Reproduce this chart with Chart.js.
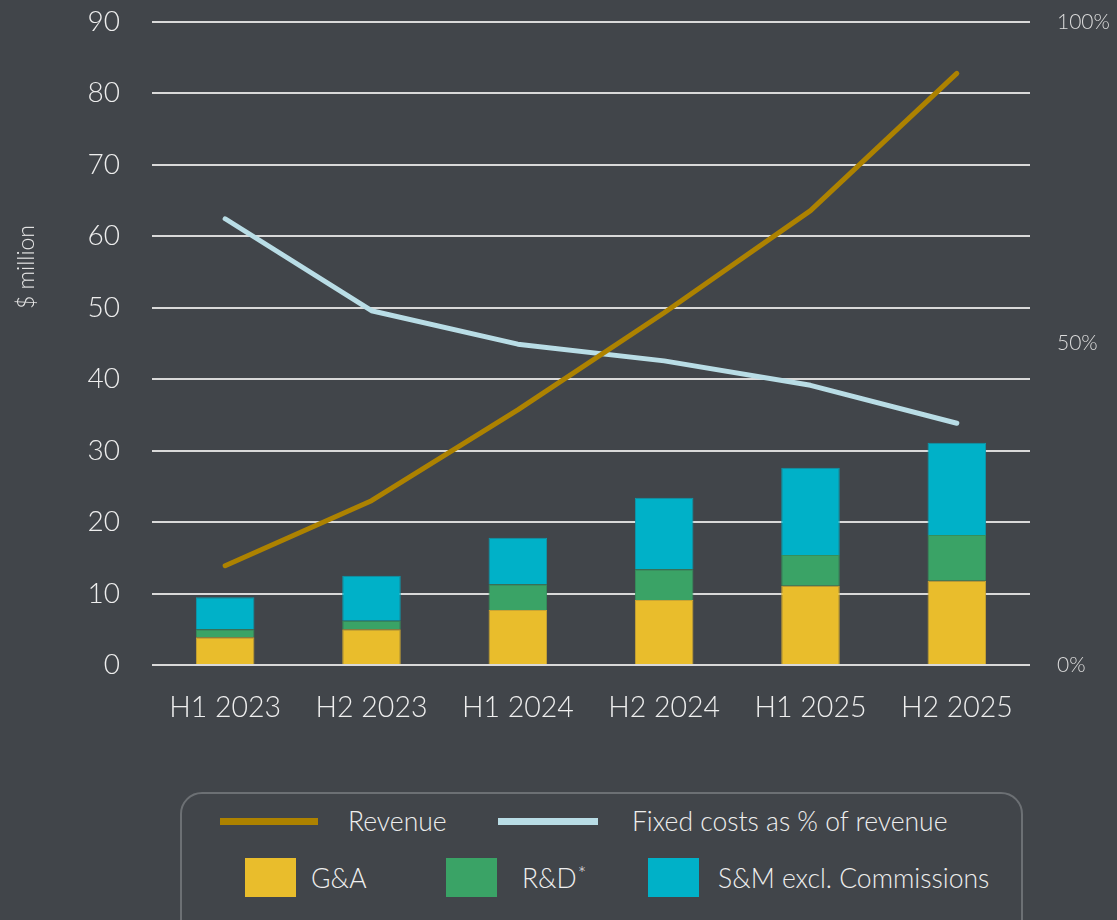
<!DOCTYPE html>
<html><head><meta charset="utf-8">
<script src="https://cdn.jsdelivr.net/npm/chart.js@4.4.0/dist/chart.umd.min.js"></script>
<style>
html,body{margin:0;padding:0;background:#41454a;width:1117px;height:920px;overflow:hidden;font-family:Lato,sans-serif;font-weight:300;color:#eeeeee}
#wrap{position:absolute;left:0;top:0;width:1117px;height:780px}
#ytitle{position:absolute;left:25px;top:267px;transform:translate(-50%,-50%) rotate(-90deg);font-size:23px;white-space:nowrap;color:#e6e6e6}
#legendBox{position:absolute;left:180px;top:792px;width:843px;height:150px;border:2px solid #6c7074;border-radius:22px;box-sizing:border-box}
.sw{position:absolute}
.lt{position:absolute;font-size:26.5px;line-height:30px;white-space:nowrap;color:#eeeeee}
.lt sup{font-size:20px;vertical-align:top;position:relative;top:-5px;margin-left:1px}
</style></head>
<body>
<div id="wrap"><canvas id="c" width="1117" height="780"></canvas></div>
<div id="ytitle">$ million</div>
<div id="legendBox"></div>
<div id="legend"></div>
<script>
const categories = ['H1 2023','H2 2023','H1 2024','H2 2024','H1 2025','H2 2025'];
const gaValues = [3.9, 5.0, 7.7, 9.1, 11.1, 11.8];
const rdValues = [1.1, 1.2, 3.6, 4.3, 4.3, 6.4];
const smValues = [4.5, 6.3, 6.5, 10.0, 12.2, 12.9];
const revenueValues = [13.9, 23.0, 35.7, 49.3, 63.6, 82.8];
const fixedPctValues = [69.4, 55.1, 49.9, 47.3, 43.5, 37.6];
const leftTickValues = [0,10,20,30,40,50,60,70,80,90];
const rightTickValues = [0,50,100];
const seriesNames = ['Revenue','Fixed costs as % of revenue','G&A','R&D','S&M excl. Commissions'];
const seriesColors = ['#ad8200','#b9dde6','#e9bd2c','#3aa366','#00b1c8'];
const seriesBorders = [null,null,'#c9a534','#358f5c','#0c98ab'];

const tickFont = {family:'Lato', size:28.5, weight:300};

new Chart(document.getElementById('c'), {
  type:'bar',
  data:{
    labels:categories,
    datasets:[
      {type:'line', label:seriesNames[0], data:revenueValues, yAxisID:'y', stack:'rev', borderColor:seriesColors[0], borderWidth:5, pointRadius:0, borderCapStyle:'round', borderJoinStyle:'round', tension:0, order:0},
      {type:'line', label:seriesNames[1], data:fixedPctValues, yAxisID:'y1', stack:'pct', borderColor:seriesColors[1], borderWidth:5, pointRadius:0, borderCapStyle:'round', borderJoinStyle:'round', tension:0, order:0},
      {label:seriesNames[2], data:gaValues, yAxisID:'y', stack:'costs', backgroundColor:seriesColors[2], borderColor:seriesBorders[2], borderWidth:1, barPercentage:0.4, categoryPercentage:1, order:1},
      {label:seriesNames[3], data:rdValues, yAxisID:'y', stack:'costs', backgroundColor:seriesColors[3], borderColor:seriesBorders[3], borderWidth:1, barPercentage:0.4, categoryPercentage:1, order:1},
      {label:seriesNames[4], data:smValues, yAxisID:'y', stack:'costs', backgroundColor:seriesColors[4], borderColor:seriesBorders[4], borderWidth:1, barPercentage:0.4, categoryPercentage:1, order:1}
    ]
  },
  options:{
    responsive:false,
    animation:false,
    layout:{padding:{top:22,left:0,right:0,bottom:0}},
    plugins:{legend:{display:false}, tooltip:{enabled:false}},
    scales:{
      x:{
        stacked:true,
        grid:{display:false, drawTicks:false},
        border:{display:false},
        ticks:{color:'#eeeeee', font:tickFont, padding:26},
        afterFit(s){ s.height = 115; s.paddingLeft = 0; s.paddingRight = 0; }
      },
      y:{
        stacked:true,
        position:'left',
        min:0, max:90,
        afterBuildTicks(s){ s.ticks = leftTickValues.map(v=>({value:v})); },
        grid:{color:'#d9d9d9', lineWidth:2, drawTicks:false},
        border:{display:false},
        ticks:{color:'#eeeeee', font:{family:'Lato', size:28, weight:300}, padding:32},
        afterFit(s){ s.width = 152; s.paddingTop = 0; s.paddingBottom = 0; }
      },
      y1:{
        position:'right',
        min:0, max:100,
        afterBuildTicks(s){ s.ticks = rightTickValues.map(v=>({value:v})); },
        grid:{display:false, drawTicks:false},
        border:{display:false},
        ticks:{color:'#dcdcdc', font:{family:'Lato', size:21, weight:300}, padding:27, callback:v=>v+'%'},
        afterFit(s){ s.width = 87; s.paddingTop = 0; s.paddingBottom = 0; }
      }
    }
  }
});

// HTML legend built from the series arrays
const legend = document.getElementById('legend');
const items = [
  {i:0, kind:'line', sx:220, sw:98, sy:818, text:348, ty:806},
  {i:1, kind:'line', sx:498, sw:100, sy:818, text:632, ty:806},
  {i:2, kind:'box', sx:245, sw:51, sy:858, text:311, ty:863},
  {i:3, kind:'box', sx:446, sw:51, sy:858, text:522, ty:863},
  {i:4, kind:'box', sx:648, sw:51, sy:858, text:718, ty:863}
];
items.forEach(it=>{
  const s = document.createElement('div');
  s.className='sw';
  s.style.left = it.sx+'px';
  s.style.top = it.sy+'px';
  s.style.width = it.sw+'px';
  s.style.height = (it.kind==='line'?7:39)+'px';
  s.style.background = seriesColors[it.i];
  legend.appendChild(s);
  const t = document.createElement('div');
  t.className='lt';
  t.style.left = it.text+'px';
  t.style.top = it.ty+'px';
  t.textContent = seriesNames[it.i];
  if (it.i===3){ const sp=document.createElement('sup'); sp.textContent='*'; t.appendChild(sp); }
  legend.appendChild(t);
});
</script>
</body></html>
